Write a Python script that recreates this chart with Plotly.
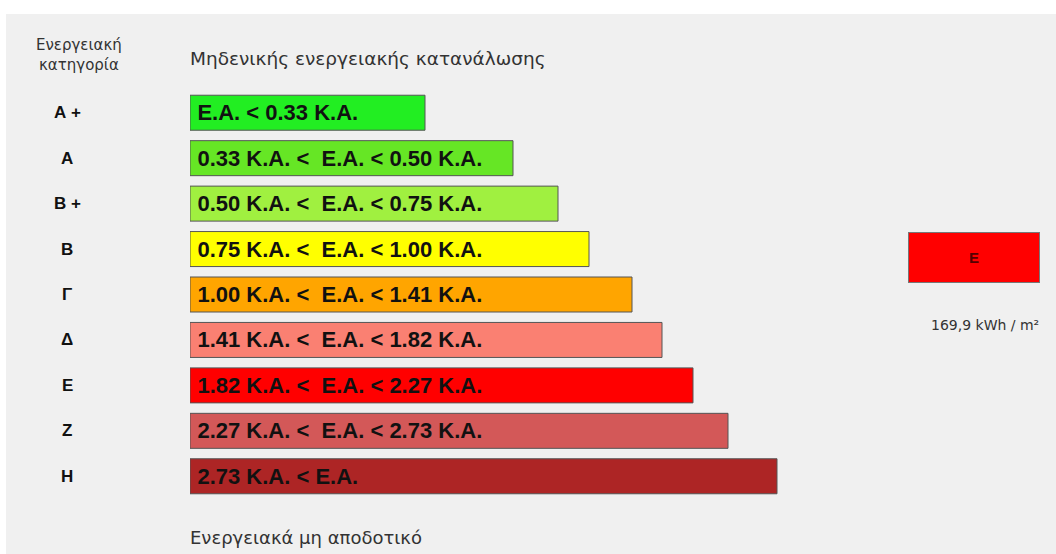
import plotly.graph_objects as go

# ---- data ----
categories = ["Α +", "Α", "Β +", "Β", "Γ", "Δ", "Ε", "Ζ", "Η"]
bar_labels = [
    "Ε.Α. < 0.33 Κ.Α.",
    "0.33 Κ.Α. <\u00a0 Ε.Α. < 0.50 Κ.Α.",
    "0.50 Κ.Α. <\u00a0 Ε.Α. < 0.75 Κ.Α.",
    "0.75 Κ.Α. <\u00a0 Ε.Α. < 1.00 Κ.Α.",
    "1.00 Κ.Α. <\u00a0 Ε.Α. < 1.41 Κ.Α.",
    "1.41 Κ.Α. <\u00a0 Ε.Α. < 1.82 Κ.Α.",
    "1.82 Κ.Α. <\u00a0 Ε.Α. < 2.27 Κ.Α.",
    "2.27 Κ.Α. <\u00a0 Ε.Α. < 2.73 Κ.Α.",
    "2.73 Κ.Α. < Ε.Α.",
]
bar_lengths = [235, 323, 368, 399, 442, 472, 503, 538, 587]
bar_colors = ["#22ee22", "#66e625", "#a0f040", "#ffff00", "#ffa500",
              "#fa8072", "#ff0000", "#d35858", "#ad2525"]
header_col = "Ενεργειακή<br>κατηγορία"
header_top = "Μηδενικής ενεργειακής κατανάλωσης"
footer = "Ενεργειακά μη αποδοτικό"
rating_class = "Ε"
rating_value = "169,9 kWh / m²"

# ---- layout geometry (pixels) ----
W, H = 1056, 554
L, R, T, B = 190, 0, 90, 55
pw, ph = W - L - R, H - T - B
n = len(categories)

def px_x(px):
    return (px - L) / pw

def px_y(py):
    return 1 - (py - T) / ph

bold = "Liberation Sans, Arial, sans-serif"
regular = "DejaVu Sans, Verdana, sans-serif"

fig = go.Figure()
fig.add_trace(go.Bar(
    y=list(range(n)), x=bar_lengths, orientation="h",
    marker=dict(color=bar_colors, line=dict(color="#555555", width=1)),
    text=["\u2009" + t for t in bar_labels], textposition="inside", insidetextanchor="start",
    textfont=dict(family=bold, size=22, color="#111111", weight="bold"),
    width=0.77, hoverinfo="skip",
))

annotations = []
for i, c in enumerate(categories):
    annotations.append(dict(x=px_x(67), y=i, xref="paper", yref="y", text=c,
                            showarrow=False, xanchor="center", yanchor="middle",
                            font=dict(family=bold, size=17, color="#111111", weight="bold")))
annotations += [
    dict(x=px_x(79), y=px_y(55), xref="paper", yref="paper", text=header_col,
         showarrow=False, xanchor="center", yanchor="middle", align="center",
         font=dict(family=regular, size=15, color="#333333")),
    dict(x=px_x(188), y=px_y(58), xref="paper", yref="paper", text=header_top,
         showarrow=False, xanchor="left", yanchor="middle",
         font=dict(family=regular, size=18.5, color="#333333")),
    dict(x=px_x(188), y=px_y(537), xref="paper", yref="paper", text=footer,
         showarrow=False, xanchor="left", yanchor="middle",
         font=dict(family=regular, size=18, color="#333333")),
    dict(x=px_x(974), y=px_y(257.5), xref="paper", yref="paper", text=rating_class,
         showarrow=False, xanchor="center", yanchor="middle",
         width=130, height=49, bgcolor="#ff0000", bordercolor="#777777",
         borderwidth=1, borderpad=0,
         font=dict(family=bold, size=15, color="#550000", weight="bold")),
    dict(x=px_x(985), y=px_y(325), xref="paper", yref="paper", text=rating_value,
         showarrow=False, xanchor="center", yanchor="middle",
         font=dict(family=regular, size=14, color="#333333")),
]

shapes = [dict(type="rect", xref="paper", yref="paper", layer="below",
               x0=px_x(6), x1=px_x(W + 5), y0=px_y(14), y1=px_y(H + 5),
               fillcolor="#f0f0f0", line=dict(width=0))]

fig.update_layout(
    width=W, height=H, margin=dict(l=L, r=R, t=T, b=B, pad=0),
    paper_bgcolor="#ffffff", plot_bgcolor="rgba(0,0,0,0)",
    showlegend=False, bargap=0.23,
    xaxis=dict(range=[0, pw], visible=False, fixedrange=True),
    yaxis=dict(range=[n - 0.5, -0.5], visible=False, fixedrange=True),
    annotations=annotations, shapes=shapes,
)
fig.write_html("out.html", config={"displayModeBar": False},
               post_script="document.body.style.margin='0px';document.body.style.overflow='hidden';")
